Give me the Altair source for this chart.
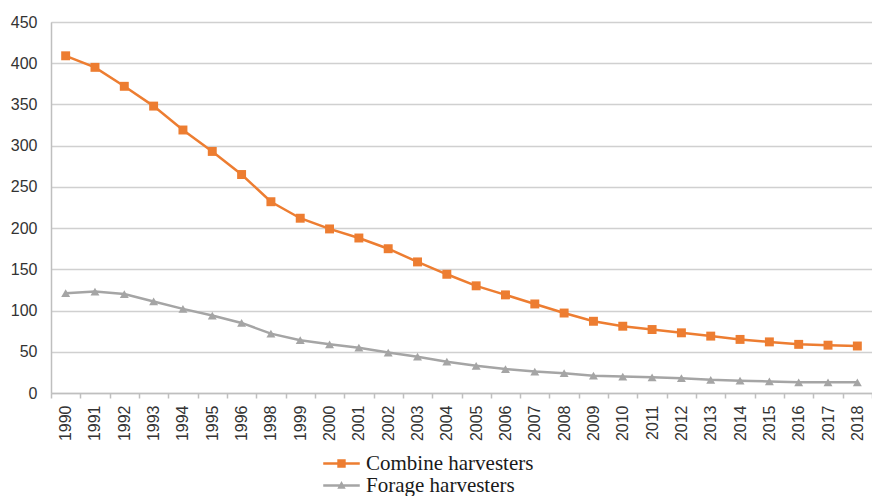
import altair as alt
import pandas as pd

# Yearly stock of harvesters (thousands), 1997 not reported
years = [1990, 1991, 1992, 1993, 1994, 1995, 1996, 1998, 1999, 2000, 2001, 2002,
         2003, 2004, 2005, 2006, 2007, 2008, 2009, 2010, 2011, 2012, 2013, 2014,
         2015, 2016, 2017, 2018]
combine = [409, 395, 372, 348, 319, 293, 265, 232, 212, 199, 188, 175,
           159, 144, 130, 119, 108, 97, 87, 81, 77, 73, 69, 65,
           62, 59, 58, 57]
forage = [121, 123, 120, 111, 102, 94, 85, 72, 64, 59, 55, 49,
          44, 38, 33, 29, 26, 24, 21, 20, 19, 18, 16, 15,
          14, 13, 13, 13]

series_names = ["Combine harvesters", "Forage harvesters"]
series_colors = ["#ED7D31", "#A5A5A5"]
y_ticks = [0, 50, 100, 150, 200, 250, 300, 350, 400, 450]

rows = []
for name, vals in zip(series_names, [combine, forage]):
    for yr, v in zip(years, vals):
        rows.append({"year": yr, "value": v, "series": name})
df = pd.DataFrame(rows)

# legend glyphs (filled outlines): a thin line bar with the series marker on it
bar = "M-1.74,-0.12H1.74V0.12H-1.74Z"
sym_square = bar + "M-0.4,-0.4H0.4V0.4H-0.4Z"
sym_triangle = bar + "M0,-0.42L0.4,0.3H-0.4Z"
series_symbols = [sym_square, sym_triangle]

series_scale = alt.Scale(domain=series_names, range=series_colors)

base = alt.Chart(df).encode(
    x=alt.X("year:O",
            scale=alt.Scale(type="band", paddingInner=0, paddingOuter=0),
            axis=alt.Axis(title=None, labelAngle=-90, labelFont="Liberation Sans",
                          labelFontSize=16, labelColor="#333333", labelPadding=7,
                          tickBand="extent", tickSize=5, tickColor="#bfbfbf",
                          tickWidth=1.5, domainColor="#bfbfbf", domainWidth=1.5,
                          grid=False)),
    y=alt.Y("value:Q",
            scale=alt.Scale(domain=[0, 450], nice=False),
            axis=alt.Axis(title=None, values=y_ticks, labelFont="Liberation Sans",
                          labelFontSize=16, labelColor="#333333", labelPadding=14,
                          ticks=False, domainColor="#bfbfbf", domainWidth=1.5,
                          gridColor="#d0d0d0", gridWidth=1.5)),
)

lines = base.mark_line(strokeWidth=2.5).encode(
    color=alt.Color("series:N", scale=series_scale, legend=None)
)
points = base.mark_point(filled=True, opacity=1, size=80).encode(
    color=alt.Color("series:N", scale=series_scale, legend=None),
    shape=alt.condition(alt.datum.series == series_names[0],
                        alt.value("square"), alt.value("triangle-up")),
)


def legend_entry(i):
    """Layer without rows of its own that carries one legend entry."""
    leg = alt.Legend(
        title=None,
        orient="none",
        legendX=279,
        legendY=430 + 22 * i,
        values=[series_names[i]],
        padding=0,
        symbolSize=441,
        symbolOpacity=1,
        symbolFillColor=series_colors[i],
        labelOffset=13,
        labelFont="Liberation Serif",
        labelFontSize=21,
        labelColor="#1a1a1a",
        labelLimit=400,
    )
    return base.mark_point(filled=True, color=series_colors[i]).encode(
        shape=alt.Shape("series:N",
                        scale=alt.Scale(domain=series_names, range=series_symbols),
                        legend=leg),
    ).transform_filter(alt.datum.value < 0)


chart = (
    alt.layer(lines, points, legend_entry(0), legend_entry(1))
    .resolve_scale(shape="independent")
    .properties(width=821, height=371,
                autosize=alt.AutoSizeParams(type="none"),
                padding={"left": 51, "top": 22, "right": 0, "bottom": 103})
    .configure_view(stroke=None)
    .configure(background="white")
)

chart.save("out.html", embed_options={"renderer": "svg", "actions": False})
